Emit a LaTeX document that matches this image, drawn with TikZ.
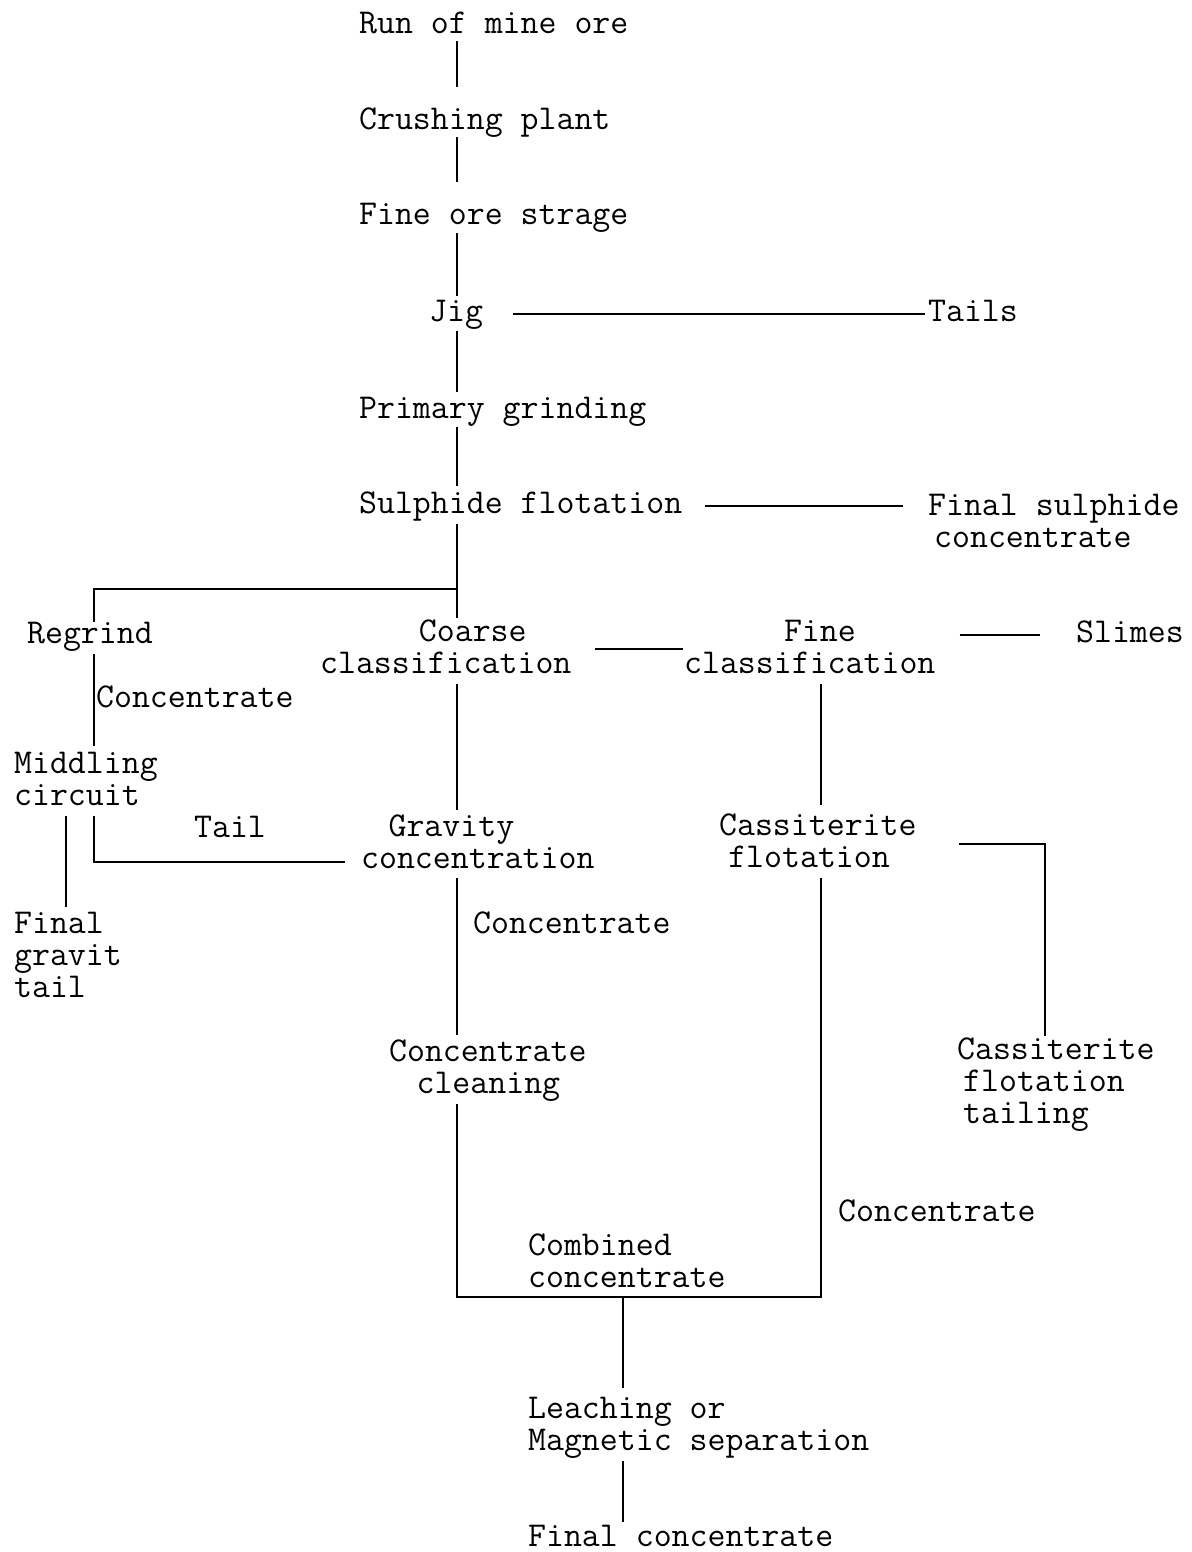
\documentclass[tikz,border=0pt]{standalone}
\usepackage{fontspec}
\usepackage{tikz}
\usetikzlibrary{calc}
\newdimen\chw \chw=9.15pt
\newcommand\indchars[1]{\hspace*{#1\chw}}
\begin{document}
\begin{tikzpicture}[x=0.5pt, y=-0.5pt, line width=1.1pt,
  lbl/.style={font=\ttfamily\fontsize{17.43pt}{16pt}\selectfont, inner sep=0pt, anchor=base west, align=left},
  one/.style={lbl, text height=10pt, text depth=3pt}]
\useasboundingbox (0,0) rectangle (1192,1552);
\coordinate (tx) at (457,0); \coordinate (cx) at (821,0); \coordinate (lx) at (94,0);
\coordinate (mx) at (66,0);  \coordinate (ox) at (623,0); \coordinate (rx) at (1045,0);
\node[one] (run) at (358,34) {Run of mine ore};
\node[one] (crush) at (358,130) {Crushing plant};
\node[one] (store) at (358,224) {Fine ore strage};
\node[one] (jig) at (428,321) {Jig};
\node[one] (tails) at (927,321) {Tails};
\node[one] (prim) at (358,418) {Primary grinding};
\node[one] (sulph) at (358,513) {Sulphide flotation};
\node[lbl] (fsc) at (927,547) {Final sulphide\\\indchars{0.33}concentrate};
\node[one] (regrind) at (26,643) {Regrind};
\node[lbl] (coarse) at (319,673) {\indchars{5.4}Coarse\\classification};
\node[lbl] (finec) at (683,673) {\indchars{5.46}Fine\\classification};
\node[one] (slimes) at (1075,642) {Slimes};
\node[one] (lconc1) at (95,707) {Concentrate};
\node[lbl] (midd) at (13,805) {Middling\\circuit};
\node[one] (ltail) at (193,837) {Tail};
\node[lbl] (grav) at (360,868) {\indchars{1.5}Gravity\\concentration};
\node[lbl] (cass) at (718,867) {Cassiterite\\\indchars{0.5}flotation};
\node[lbl] (fgt) at (13,997) {Final\\gravit\\tail};
\node[one] (lconc2) at (472,933) {Concentrate};
\node[lbl] (clean) at (388,1093) {Concentrate\\\indchars{1.5}cleaning};
\node[lbl] (cft) at (956,1123) {Cassiterite\\\indchars{0.33}flotation\\\indchars{0.33}tailing};
\node[one] (lconc3) at (837,1221) {Concentrate};
\node[lbl] (comb) at (527,1287) {Combined\\concentrate};
\node[lbl] (leach) at (527,1450) {Leaching or\\Magnetic separation};
\node[one] (final) at (527,1546) {Final concentrate};
\coordinate (sp) at (sulph.south -| tx);
\coordinate (split) at ($(sp)+(0,69)$);
\draw[shorten >=11pt] (run.south -| tx) -- (crush.north -| tx);
\draw[shorten >=10.5pt] (crush.south -| tx) -- (store.north -| tx);
\draw[shorten <=1pt, shorten >=2pt] (store.south -| tx) -- (jig.north -| tx);
\draw[shorten <=1.5pt, shorten >=2.5pt] (jig.south -| tx) -- (prim.north -| tx);
\draw[shorten <=1pt, shorten >=3pt] (prim.south -| tx) -- (sulph.north -| tx);
\draw[shorten <=14.5pt, shorten >=1pt] (jig) -- (tails);
\draw[shorten <=11pt, shorten >=12pt] (sulph.east) -- (sulph.east -| fsc.west);
\draw[shorten <=2pt] (sp) -- (split);
\draw (split) -| (regrind.north -| lx);
\draw (split) -- (coarse.north -| tx);
\draw[shorten <=2pt, shorten >=2.5pt] (regrind.south -| lx) -- (midd.north -| lx);
\draw[shorten <=11pt] ([yshift=-1.5pt]coarse.east) -- ([yshift=-1.5pt]coarse.east -| finec.west);
\draw[shorten <=11.5pt, shorten >=17.5pt] (slimes.west -| finec.east) -- (slimes.west);
\draw[shorten <=5pt, shorten >=1.5pt] (coarse.south -| tx) -- (grav.north -| tx);
\draw[shorten <=5pt, shorten >=3.5pt] (finec.south -| cx) -- (cass.north -| cx);
\draw[shorten <=5pt, shorten >=2pt] (midd.south -| mx) -- (fgt.north -| mx);
\draw[shorten <=5pt, shorten >=7.5pt] (midd.south -| lx) |- ([yshift=3pt]grav.base west);
\draw[shorten <=20.5pt] ([yshift=-2pt]cass.east) -| (cft.north -| rx);
\draw[shorten <=4.5pt, shorten >=1.5pt] (grav.south -| tx) -- (clean.north -| tx);
\draw[shorten <=1pt, shorten >=5pt] (clean.south -| tx) |- ([yshift=-4.5pt]comb.south) -| (cass.south -| cx);
\draw[shorten >=4pt] ([yshift=-4.5pt]comb.south -| ox) -- (leach.north -| ox);
\draw[shorten <=1pt, shorten >=1.5pt] (leach.south -| ox) -- (final.north -| ox);
\end{tikzpicture}
\end{document}
